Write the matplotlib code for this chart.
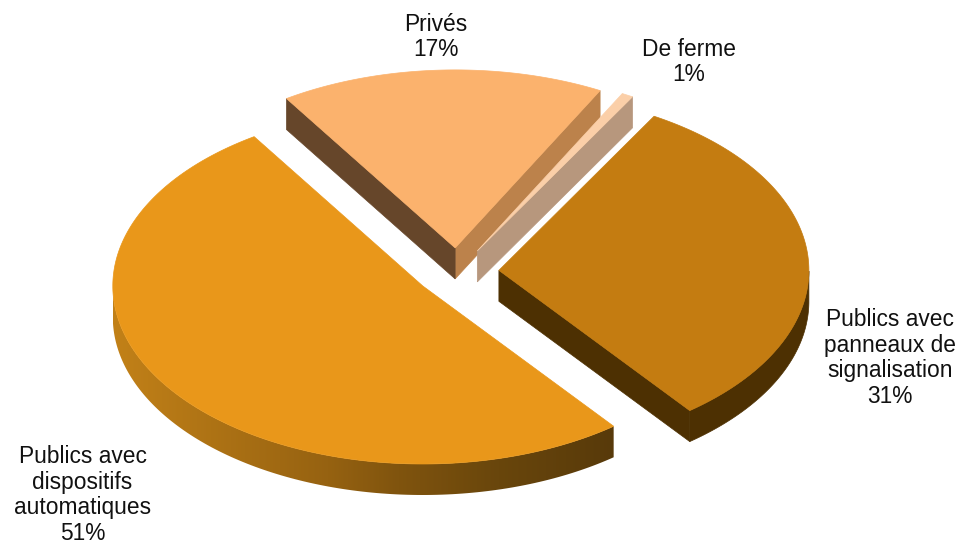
import numpy as np
import matplotlib
matplotlib.use('Agg')
import matplotlib.pyplot as plt
from matplotlib.patches import Polygon

plt.rcParams['font.family'] = ['Liberation Sans', 'DejaVu Sans']

# Data, counter-clockwise from the lower right
labels = ['Publics avec\npanneaux de\nsignalisation', 'De ferme', 'Privés', 'Publics avec\ndispositifs\nautomatiques']
values = [31.1, 0.6, 16.9, 51.4]
top_colors = ['#C47C11', '#FBCFA8', '#FBB26D', '#E9971A']
rim_colors = ['#4D3002', '#B7977D', '#BC824B', None]
start_face_colors = ['#4D3002', '#B7977D', '#BC824B', '#4D3002']
end_face_colors = ['#4D3002', '#B7977D', '#66462A', '#4D3002']
label_x = [890, 689, 436, 82.5]
label_y = [358, 62, 37, 495]
gradient_stops = [0, 0.43, 0.57, 0.77, 1]
gradient_colors = [(194, 129, 24), (150, 98, 17), (128, 84, 14), (105, 70, 12), (88, 58, 10)]

# Pie geometry in pixels
center_x, center_y = 457, 272
radius_x, radius_y = 310, 178
depth = 31
explode = 42
start_angle = -52


def to_xy(angle, cx, cy):
    a = np.radians(angle)
    return cx + radius_x * np.cos(a), cy - radius_y * np.sin(a)


fig = plt.figure(figsize=(9.61, 5.44), dpi=100)
ax = fig.add_axes([0, 0, 1, 1])
ax.set_xlim(0, 961)
ax.set_ylim(544, 0)
ax.axis('off')

sweeps = np.array(values) / sum(values) * 360
starts = start_angle + np.concatenate([[0], np.cumsum(sweeps)[:-1]])

# back slices first
for i in [2, 1, 0, 3]:
    a0, a1 = starts[i], starts[i] + sweeps[i]
    mid = (a0 + a1) / 2
    cx = center_x + explode * np.cos(np.radians(mid))
    cy = center_y - explode * np.sin(np.radians(mid)) * radius_y / radius_x

    angles = np.linspace(a0, a1, 200)
    xs, ys = to_xy(angles, cx, cy)

    # cut faces, seen only when they turn towards the viewer
    if np.sin(np.radians(a0 - 90)) < 0:
        ex, ey = to_xy(a0, cx, cy)
        ax.add_patch(Polygon([(cx, cy), (ex, ey), (ex, ey + depth), (cx, cy + depth)],
                             fc=start_face_colors[i], ec=start_face_colors[i], lw=0.5))
    if np.sin(np.radians(a1 + 90)) < 0:
        ex, ey = to_xy(a1, cx, cy)
        ax.add_patch(Polygon([(cx, cy), (ex, ey), (ex, ey + depth), (cx, cy + depth)],
                             fc=end_face_colors[i], ec=end_face_colors[i], lw=0.5))

    # outer rim
    front = np.sin(np.radians(angles)) < 0
    if front.any():
        rx, ry = xs[front], ys[front]
        rim_pts = np.concatenate([np.column_stack([rx, ry]),
                                  np.column_stack([rx, ry + depth])[::-1]])
        if rim_colors[i] is None:
            rim = Polygon(rim_pts, fc='none', ec='none')
            ax.add_patch(rim)
            g = np.linspace(0, 1, 512)
            grad = np.column_stack([np.interp(g, gradient_stops, [c[k] for c in gradient_colors])
                                    for k in range(3)]) / 255
            im = ax.imshow(grad[None, :, :], extent=[rx.min(), rx.max(), 544, 0],
                           aspect='auto', interpolation='bilinear', zorder=1)
            im.set_clip_path(rim)
        else:
            ax.add_patch(Polygon(rim_pts, fc=rim_colors[i], ec=rim_colors[i], lw=0.5))

    # top face
    top_pts = [(cx, cy)] + list(zip(xs, ys))
    ax.add_patch(Polygon(top_pts, fc=top_colors[i], ec=top_colors[i], lw=0.5, zorder=2))

    ax.text(label_x[i], label_y[i], f'{labels[i]}\n{values[i]:.0f}%', ha='center', va='center',
            ma='center', fontsize=16.4, color='#111111', linespacing=1.15, zorder=5)

ax.set_xlim(0, 961)
ax.set_ylim(544, 0)
fig.savefig('out.png', dpi=100)
